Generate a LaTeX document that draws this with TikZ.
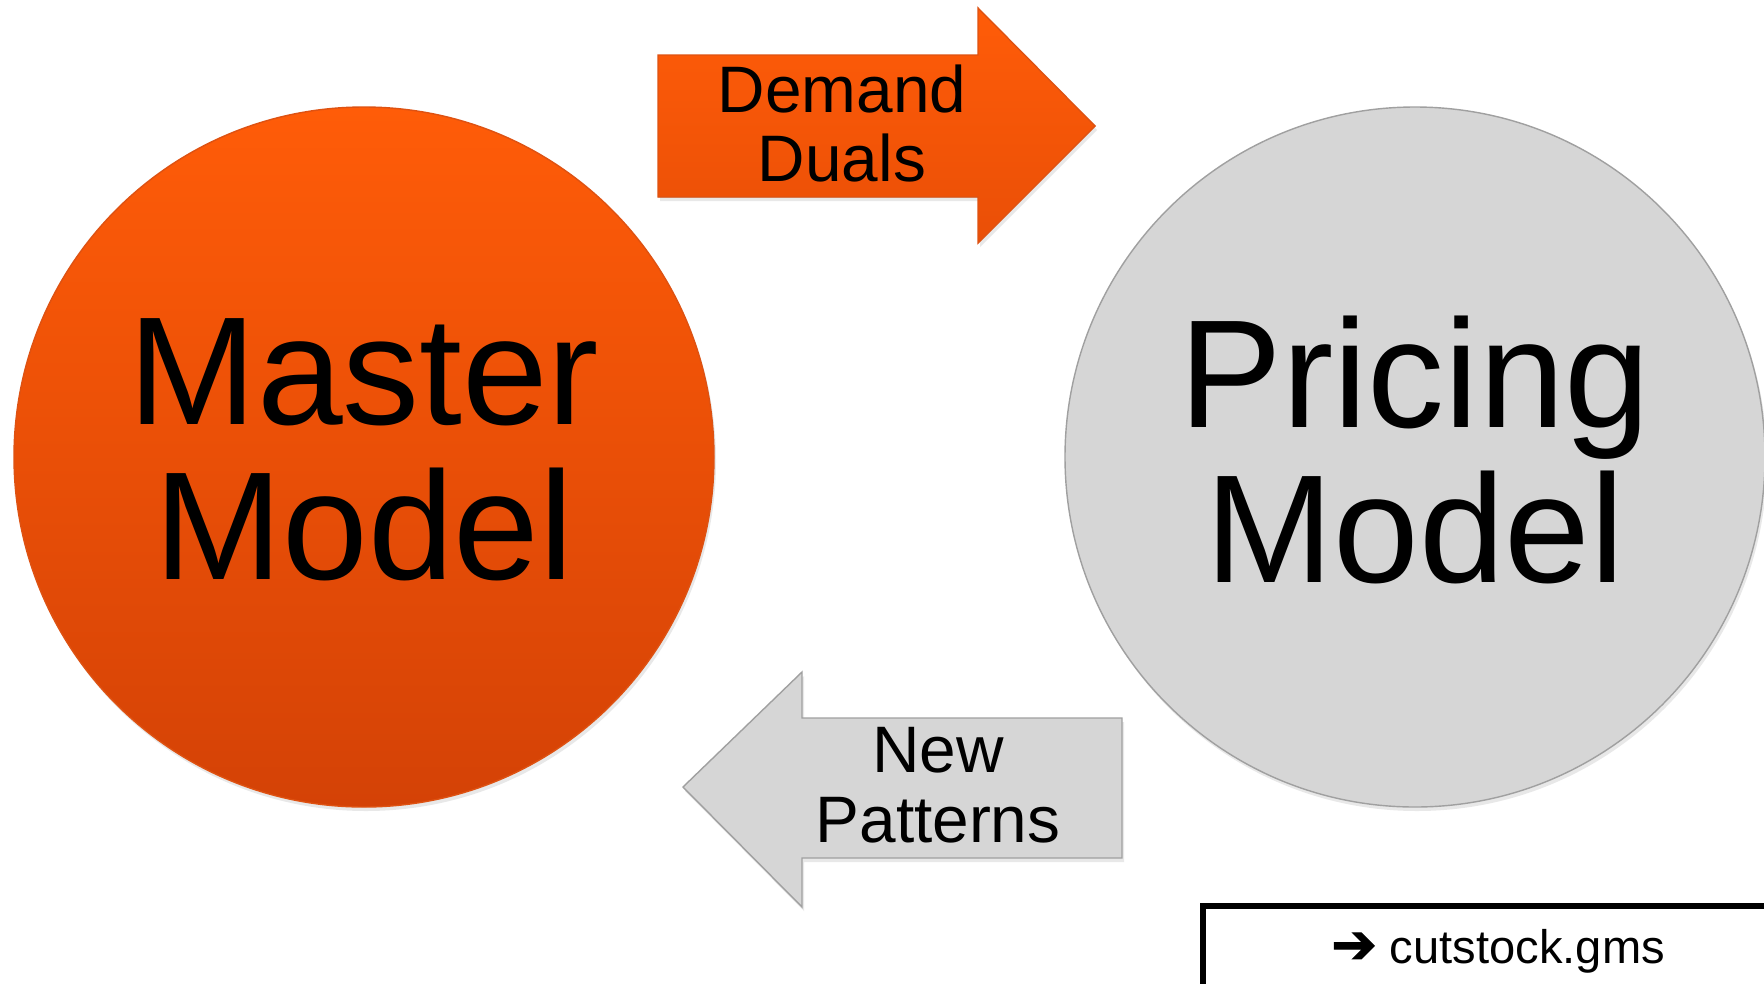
\documentclass[tikz,border=0pt]{standalone}
\usepackage{fontspec}
\setmainfont{Liberation Sans}
\newfontfamily\arrowfont[FakeBold=2]{DejaVu Sans}
\usetikzlibrary{shadows}

\definecolor{orangetop}{RGB}{255,92,8}
\definecolor{orangebot}{RGB}{212,66,6}
\definecolor{orangeedge}{RGB}{222,82,18}
\definecolor{greyfill}{RGB}{214,214,214}
\definecolor{greyedge}{RGB}{160,160,160}

\tikzset{
  softshadow/.style={drop shadow={shadow xshift=0.02cm, shadow yshift=-0.04cm, opacity=0.18}},
  modelcircle/.style={circle, minimum size=7cm, inner sep=0pt, softshadow},
  bigtext/.style={font=\fontsize{43.8}{44}\selectfont, align=center, inner sep=0pt},
  arrowtext/.style={font=\fontsize{18.7}{19.9}\selectfont, align=center, inner sep=0pt},
}

\begin{document}
\begin{tikzpicture}
    \clip (0,0) rectangle (17.64,9.83);
    \fill[white] (0,0) rectangle (17.64,9.83);
    \node[modelcircle, top color=orangetop, bottom color=orangebot, draw=orangeedge] (master) at (3.64,5.26) {};
    \node[modelcircle, fill=greyfill, draw=greyedge] (pricing) at (14.15,5.26) {};
    \node[bigtext] (mastertext) at ([yshift=0.07cm]master.center) {Master\\Model};
    \node[bigtext] (pricingtext) at ([yshift=0.07cm]pricing.center) {Pricing\\Model};
    \filldraw[draw=orangeedge, top color=orangetop, bottom color=orangebot!50!orangetop, softshadow]
        (6.58,9.28) -- (9.78,9.28) -- (9.78,9.75) -- (10.95,8.57) -- (9.78,7.40) -- (9.78,7.86) -- (6.58,7.86) -- cycle;
    \node[arrowtext] (duals) at (8.42,8.595) {Demand\\Duals};
    \filldraw[draw=greyedge, fill=greyfill, softshadow]
        (6.83,1.96) -- (8.02,3.11) -- (8.02,2.65) -- (11.22,2.65) -- (11.22,1.25) -- (8.02,1.25) -- (8.02,0.76) -- cycle;
    \node[arrowtext] (patterns) at (9.38,1.975) {New\\Patterns};
    \draw[line width=0.065cm] (12.03,0.77) rectangle (18,-0.5);
    \node[anchor=base, font=\fontsize{13.4}{15}\selectfont, inner sep=0pt] (gmsfile) at (14.98,0.20) {{\arrowfont\fontsize{15.5}{15}\selectfont ➔} cutstock.gms};
\end{tikzpicture}
\end{document}
